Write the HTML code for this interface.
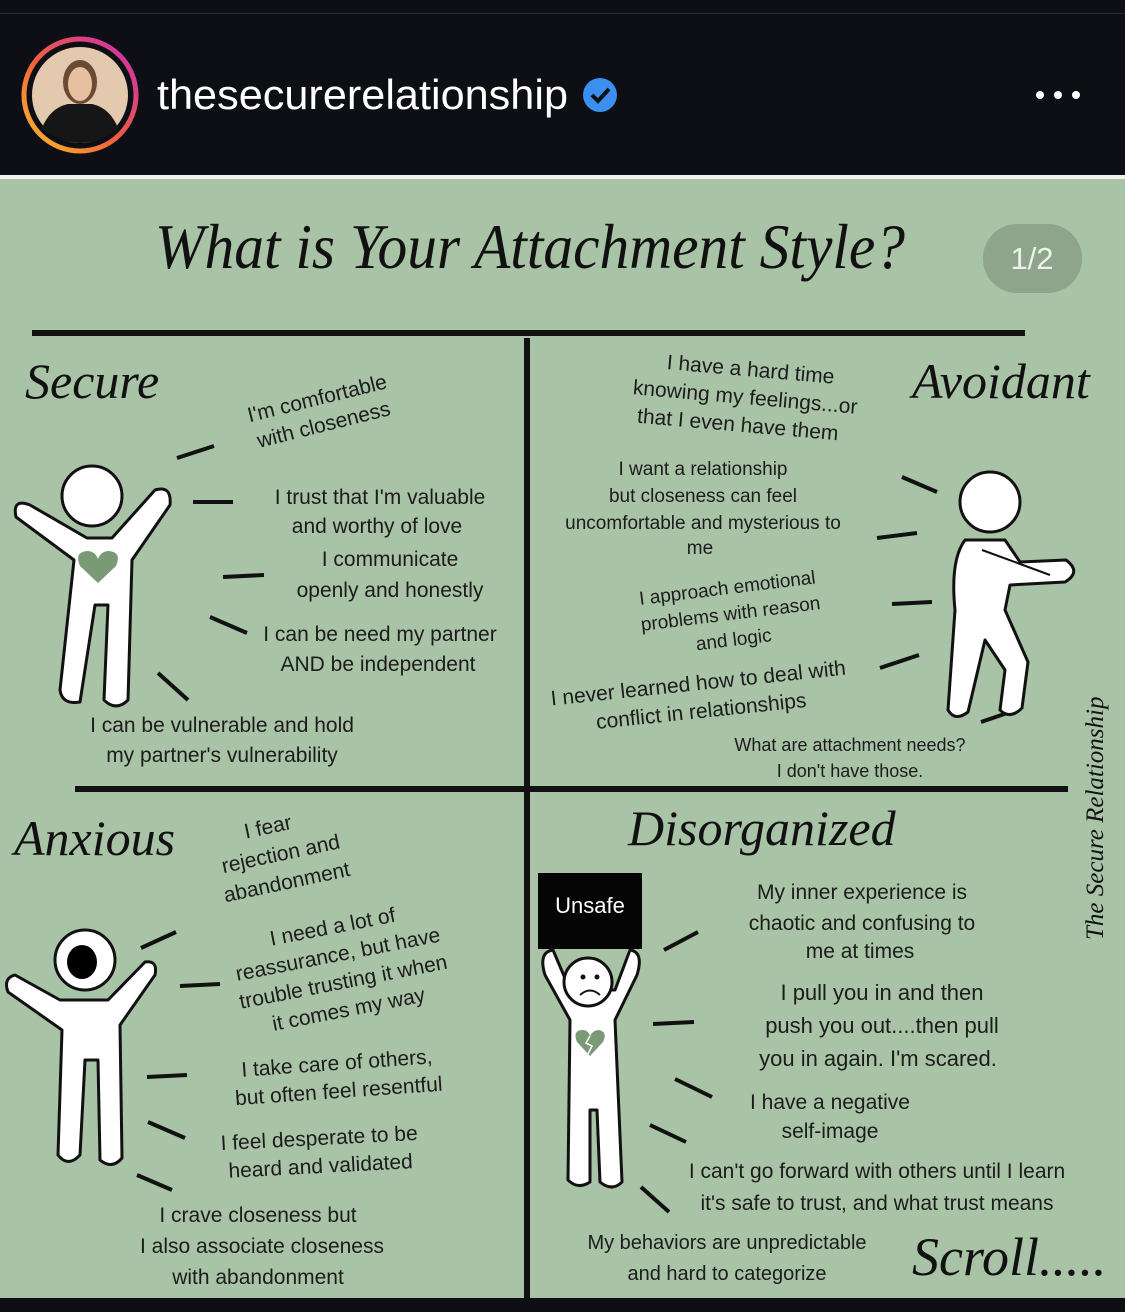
<!DOCTYPE html>
<html><head><meta charset="utf-8">
<style>
html,body{margin:0;padding:0;background:#0d0f14;}
svg{display:block}
text{font-family:"Liberation Sans",sans-serif;fill:#1c1c1c;font-size:21px;}
.s{font-family:"Liberation Serif",serif;font-style:italic;fill:#111;}
.fig{fill:#fff;stroke:#111;stroke-width:3;stroke-linejoin:round}
.d{stroke:#111;stroke-width:4;stroke-linecap:butt}
</style></head><body>
<svg width="1125" height="1312" viewBox="0 0 1125 1312" xmlns="http://www.w3.org/2000/svg">
<defs>
<linearGradient id="ig" x1="0" y1="1" x2="1" y2="0">
<stop offset="0" stop-color="#fbc02d"/><stop offset="0.45" stop-color="#f0603a"/><stop offset="1" stop-color="#c92bb8"/>
</linearGradient>
</defs>
<rect x="0" y="0" width="1125" height="1312" fill="#0d0f14"/>
<rect x="0" y="13" width="1125" height="1" fill="#2a2c31"/>
<rect x="0" y="175" width="1125" height="4" fill="#f2f2f2"/>
<rect x="0" y="179" width="1125" height="1119" fill="#a9c3a6"/>
<!-- header -->
<circle cx="80" cy="95" r="56" fill="none" stroke="url(#ig)" stroke-width="5"/>
<circle cx="80" cy="95" r="48" fill="#e3c9ad"/>
<path d="M42 128 Q50 108 68 104 L92 104 Q110 108 118 128 Q100 143 80 143 Q60 143 42 128Z" fill="#161616"/>
<ellipse cx="80" cy="82" rx="17" ry="22" fill="#6b4a35"/>
<ellipse cx="80" cy="84" rx="12" ry="17" fill="#e8c0a0"/>
<text x="157" y="109" textLength="411" lengthAdjust="spacingAndGlyphs" style="font-size:42px;fill:#fff;font-weight:500">thesecurerelationship</text>
<circle cx="600" cy="95" r="17" fill="#3b8ff0"/>
<path d="M592 95 L598 101 L609 89" stroke="#0d0f14" stroke-width="4" fill="none"/>
<circle cx="1040" cy="95" r="4" fill="#fff"/><circle cx="1058" cy="95" r="4" fill="#fff"/><circle cx="1076" cy="95" r="4" fill="#fff"/>
<!-- title -->
<text x="155" y="268" class="s" textLength="750" lengthAdjust="spacingAndGlyphs" style="font-size:64px">What is Your Attachment Style?</text>
<rect x="983" y="224" width="99" height="69" rx="34" fill="#8ea48b"/>
<text x="1032" y="269" text-anchor="middle" style="font-size:31px;fill:#eef2ec">1/2</text>
<!-- grid -->
<rect x="32" y="330" width="993" height="6" fill="#111"/>
<rect x="524" y="338" width="6" height="960" fill="#111"/>
<rect x="75" y="786" width="993" height="6" fill="#111"/>
<!-- headings -->
<text x="25" y="398" class="s" style="font-size:50px">Secure</text>
<text x="912" y="398" class="s" style="font-size:50px">Avoidant</text>
<text x="14" y="855" class="s" style="font-size:50px">Anxious</text>
<text x="628" y="845" class="s" style="font-size:50px">Disorganized</text>
<text x="912" y="1275" class="s" style="font-size:54px">Scroll.....</text>
<text transform="translate(1103,940) rotate(-90)" class="s" style="font-size:25px">The Secure Relationship</text>
<!-- SECURE text -->
<g transform="rotate(-14 320 410)"><text x="320" y="405" text-anchor="middle">I'm comfortable</text><text x="320" y="432" text-anchor="middle">with closeness</text></g>
<text x="380" y="504" text-anchor="middle">I trust that I'm valuable</text>
<text x="377" y="533" text-anchor="middle">and worthy of love</text>
<text x="390" y="566" text-anchor="middle">I communicate</text>
<text x="390" y="597" text-anchor="middle">openly and honestly</text>
<text x="380" y="641" text-anchor="middle">I can be need my partner</text>
<text x="378" y="671" text-anchor="middle">AND be independent</text>
<text x="222" y="732" text-anchor="middle">I can be vulnerable and hold</text>
<text x="222" y="762" text-anchor="middle">my partner's vulnerability</text>
<line class="d" x1="177" y1="458" x2="214" y2="446"/>
<line class="d" x1="193" y1="502" x2="233" y2="502"/>
<line class="d" x1="223" y1="577" x2="264" y2="575"/>
<line class="d" x1="210" y1="617" x2="247" y2="633"/>
<line class="d" x1="158" y1="673" x2="188" y2="700"/>
<!-- secure figure -->
<path class="fig" d="M87 538 L30 505 Q12 498 16 517 L74 560 L60 690 Q62 705 80 702 L95 605 L108 605 L104 700 Q116 712 128 700 L132 560 L170 505 Q172 485 155 490 L112 538 Z"/>
<circle class="fig" cx="92" cy="496" r="30"/>
<path d="M98 583 L80 566 Q74 552 87 551 Q95 551 98 559 Q101 551 109 551 Q122 552 116 566Z" fill="#7a9a76"/>
<!-- AVOIDANT -->
<g transform="rotate(5 745 400)"><text x="748" y="376" text-anchor="middle">I have a hard time</text><text x="745" y="404" text-anchor="middle">knowing my feelings...or</text><text x="740" y="432" text-anchor="middle">that I even have them</text></g>
<text x="703" y="475" text-anchor="middle" style="font-size:19px">I want a relationship</text>
<text x="703" y="502" text-anchor="middle" style="font-size:19px">but closeness can feel</text>
<text x="703" y="529" text-anchor="middle" style="font-size:19px">uncomfortable and mysterious to</text>
<text x="700" y="554" text-anchor="middle" style="font-size:19px">me</text>
<g transform="rotate(-7 730 610)"><text x="730" y="594" text-anchor="middle" style="font-size:19px">I approach emotional</text><text x="730" y="620" text-anchor="middle" style="font-size:19px">problems with reason</text><text x="730" y="646" text-anchor="middle" style="font-size:19px">and logic</text></g>
<g transform="rotate(-6 700 700)"><text x="700" y="690" text-anchor="middle">I never learned how to deal with</text><text x="700" y="718" text-anchor="middle">conflict in relationships</text></g>
<text x="850" y="751" text-anchor="middle" style="font-size:18px">What are attachment needs?</text>
<text x="850" y="777" text-anchor="middle" style="font-size:18px">I don't have those.</text>
<line class="d" x1="902" y1="477" x2="937" y2="492"/>
<line class="d" x1="877" y1="538" x2="917" y2="533"/>
<line class="d" x1="892" y1="604" x2="932" y2="602"/>
<line class="d" x1="880" y1="668" x2="919" y2="655"/>
<line class="d" x1="981" y1="722" x2="1019" y2="709"/>
<!-- avoidant figure -->
<path class="fig" d="M965 540 Q950 560 955 610 L948 710 Q955 722 968 712 L985 640 L1005 670 L1000 710 Q1010 720 1022 708 L1028 662 L1005 610 L1010 585 L1065 582 Q1082 572 1066 560 L1020 562 L1005 540 Z"/>
<path d="M982 550 L1050 575" stroke="#111" stroke-width="2" fill="none"/>
<circle class="fig" cx="990" cy="502" r="30"/>
<!-- ANXIOUS -->
<g transform="rotate(-12 280 860)"><text x="275" y="832" text-anchor="middle">I fear</text><text x="282" y="861" text-anchor="middle">rejection and</text><text x="282" y="890" text-anchor="middle">abandonment</text></g>
<g transform="rotate(-11 340 965)"><text x="340" y="933" text-anchor="middle">I need a lot of</text><text x="340" y="961" text-anchor="middle">reassurance, but have</text><text x="340" y="989" text-anchor="middle">trouble trusting it when</text><text x="340" y="1017" text-anchor="middle">it comes my way</text></g>
<g transform="rotate(-4 338 1080)"><text x="338" y="1070" text-anchor="middle">I take care of others,</text><text x="338" y="1098" text-anchor="middle">but often feel resentful</text></g>
<g transform="rotate(-3 320 1155)"><text x="320" y="1145" text-anchor="middle">I feel desperate to be</text><text x="320" y="1173" text-anchor="middle">heard and validated</text></g>
<text x="258" y="1222" text-anchor="middle">I crave closeness but</text>
<text x="262" y="1253" text-anchor="middle">I also associate closeness</text>
<text x="258" y="1284" text-anchor="middle">with abandonment</text>
<line class="d" x1="141" y1="948" x2="176" y2="932"/>
<line class="d" x1="180" y1="986" x2="220" y2="984"/>
<line class="d" x1="147" y1="1077" x2="187" y2="1075"/>
<line class="d" x1="148" y1="1122" x2="185" y2="1138"/>
<line class="d" x1="137" y1="1175" x2="172" y2="1190"/>
<!-- anxious figure -->
<path class="fig" d="M60 1000 L15 975 Q3 978 8 992 L62 1030 L58 1155 Q68 1168 80 1155 L85 1060 L98 1060 L100 1160 Q112 1170 122 1158 L120 1025 L155 975 Q158 960 145 962 L108 1000 Z"/>
<circle class="fig" cx="85" cy="960" r="30"/>
<ellipse cx="82" cy="962" rx="15" ry="17" fill="#000"/>
<!-- DISORGANIZED -->
<rect x="538" y="873" width="104" height="76" fill="#050505"/>
<text x="590" y="913" text-anchor="middle" style="font-size:22px;fill:#fff">Unsafe</text>
<text x="862" y="899" text-anchor="middle">My inner experience is</text>
<text x="862" y="930" text-anchor="middle">chaotic and confusing to</text>
<text x="860" y="958" text-anchor="middle">me at times</text>
<text x="882" y="1000" text-anchor="middle" style="font-size:22px">I pull you in and then</text>
<text x="882" y="1033" text-anchor="middle" style="font-size:22px">push you out....then pull</text>
<text x="878" y="1066" text-anchor="middle" style="font-size:22px">you in again.  I'm scared.</text>
<text x="830" y="1109" text-anchor="middle">I have a negative</text>
<text x="830" y="1138" text-anchor="middle">self-image</text>
<text x="877" y="1178" text-anchor="middle">I can't go forward with others until I learn</text>
<text x="877" y="1210" text-anchor="middle">it's safe to trust, and what trust means</text>
<text x="727" y="1249" text-anchor="middle" style="font-size:20px">My behaviors are unpredictable</text>
<text x="727" y="1280" text-anchor="middle" style="font-size:20px">and hard to categorize</text>
<line class="d" x1="664" y1="950" x2="698" y2="932"/>
<line class="d" x1="653" y1="1024" x2="694" y2="1022"/>
<line class="d" x1="675" y1="1079" x2="712" y2="1097"/>
<line class="d" x1="650" y1="1125" x2="686" y2="1142"/>
<line class="d" x1="641" y1="1187" x2="669" y2="1212"/>
<!-- disorganized figure -->
<path class="fig" d="M553 950 Q538 952 545 975 L570 1020 L568 1180 Q578 1190 590 1182 L590 1110 L597 1110 L600 1182 Q612 1192 622 1182 L615 1020 L637 975 Q644 952 630 950 L615 990 L570 990 Z"/>
<circle class="fig" cx="588" cy="982" r="24"/>
<circle cx="583" cy="977" r="2.5" fill="#111"/><circle cx="597" cy="977" r="2.5" fill="#111"/>
<path d="M580 995 Q590 986 600 995" stroke="#111" stroke-width="2" fill="none"/>
<path d="M590 1056 L577 1042 Q572 1030 583 1030 Q588 1030 590 1036 Q593 1030 599 1030 Q608 1032 603 1042Z" fill="#7a9a76"/>
<path d="M590 1036 L586 1043 L592 1046 L588 1054" stroke="#fff" stroke-width="1.5" fill="none"/>
</svg>
</body></html>
